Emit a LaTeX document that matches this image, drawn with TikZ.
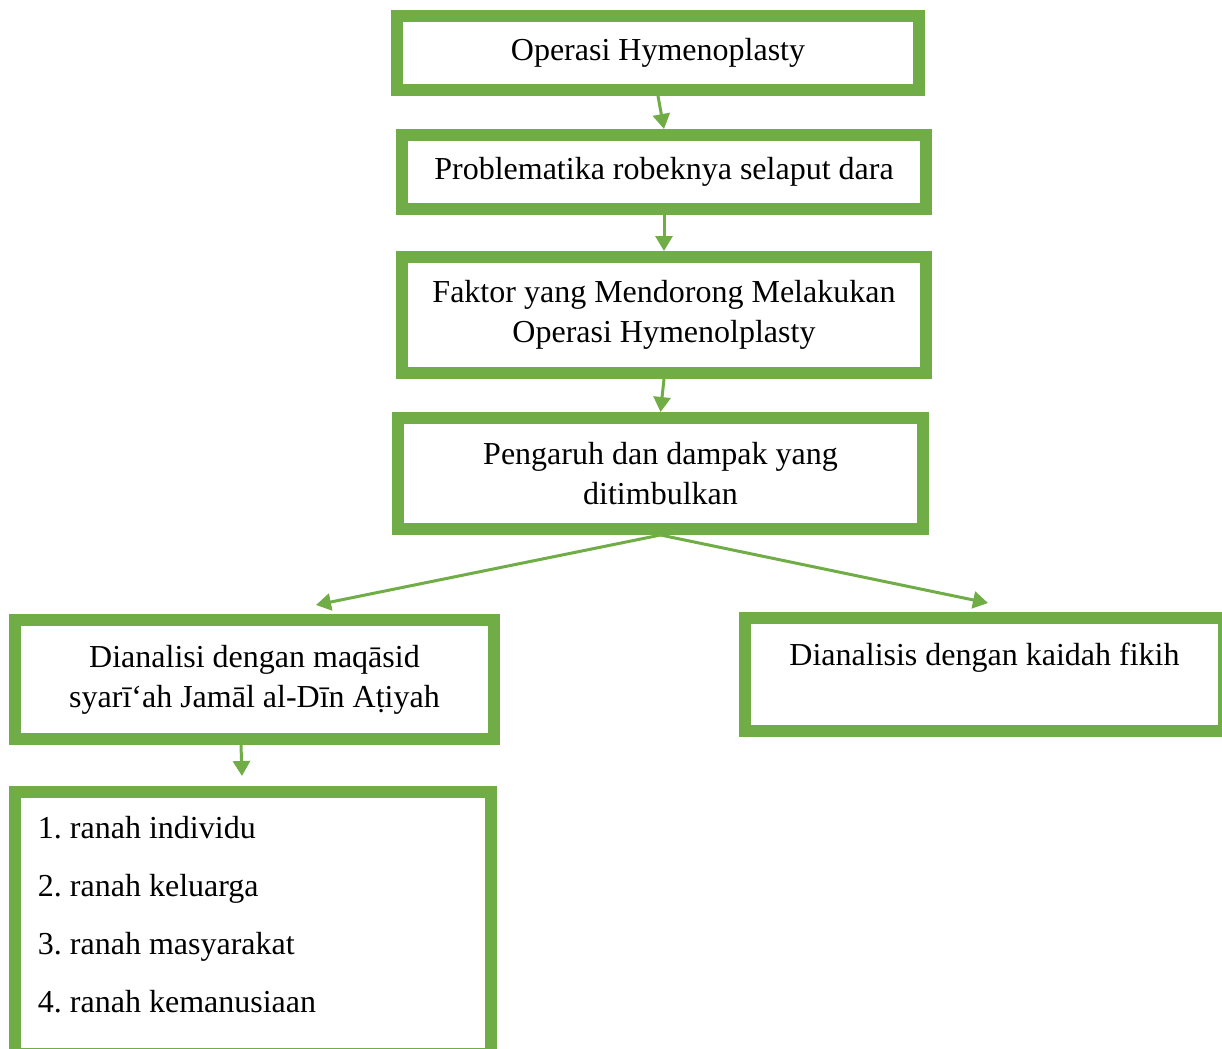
\documentclass[tikz,border=0pt]{standalone}
\usepackage{fontspec}
\setmainfont{Liberation Serif}
\usetikzlibrary{arrows.meta,calc}
\definecolor{ofgreen}{HTML}{70AD47}

\begin{document}
\frenchspacing
\begin{tikzpicture}[
    x=0.5pt, y=-0.5pt,
    box/.style={rectangle, draw=ofgreen, line width=6pt, fill=white, inner sep=0pt, align=center, font=\fontsize{16}{20}\selectfont},
    arrow/.style={-{Triangle[length=7.5pt,width=8.5pt]}, draw=ofgreen, line width=1.5pt}
]
\useasboundingbox (0,0) rectangle (1222,1049);

\node[box, minimum width=261pt, minimum height=37pt] (opr) at (658,53) {Operasi Hymenoplasty};
\node[box, minimum width=262pt, minimum height=37pt] (prob) at (664,172) {Problematika robeknya selaput dara};
\node[box, minimum width=262pt, minimum height=58pt] (faktor) at (664,315) {Faktor yang Mendorong Melakukan\\Operasi Hymenolplasty};
\node[box, minimum width=262.5pt, minimum height=55.5pt] (dampak) at (660.5,473.5) {Pengaruh dan dampak yang\\ditimbulkan};
\node[box, minimum width=239.5pt, minimum height=59.5pt] (maqasid) at (254.5,679.5) {Dianalisi dengan maqāsid\\syarī‘ah Jamāl al-Dīn Aṭiyah};
\node[box, minimum width=239.5pt, minimum height=56.5pt] (kaidah) at (984.5,674.5) {Dianalisis dengan kaidah fikih\\~};
\node[box, minimum width=238pt, minimum height=131pt, text width=215pt, align=flush left] (ranah) at (253,923) {1. ranah individu\\[9pt]2. ranah keluarga\\[9pt]3. ranah masyarakat\\[9pt]4. ranah kemanusiaan\\[-11pt]\mbox{}};

\draw[arrow] (opr.south) -- (prob.north);
\draw[arrow] (prob.south) -- (faktor.north);
\draw[arrow] (faktor.south) -- (dampak.north);
\draw[arrow] (dampak.south) -- ($(maqasid.north)+(61.5,-9)$);
\draw[arrow] (dampak.south) -- ($(kaidah.north)+(3.5,-9)$);
\draw[arrow] ($(maqasid.south)+(-13.5,0)$) -- ($(ranah.north)+(-11,-10)$);
\end{tikzpicture}
\end{document}
